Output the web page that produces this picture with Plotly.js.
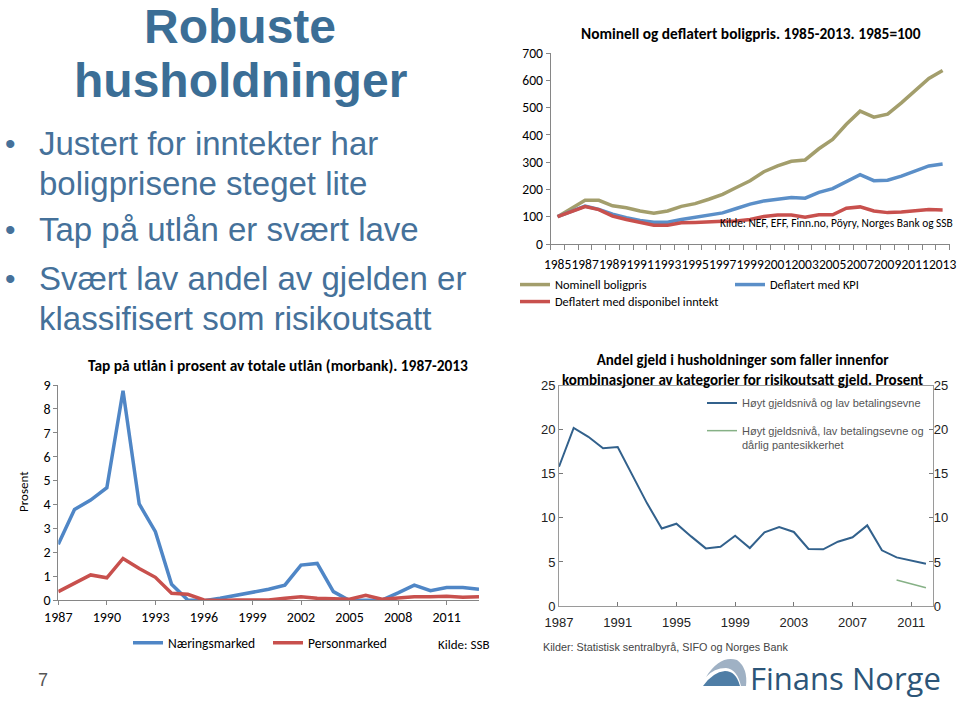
<!DOCTYPE html>
<html>
<head>
<meta charset="utf-8">
<script src="https://cdn.plot.ly/plotly-3.0.1.min.js"></script>
<style>html,body{margin:0;padding:0;background:#fff;}#chart{width:960px;height:703px;}</style>
</head>
<body>
<div id="chart"></div>
<script>
// ---- Chart 1: Nominell og deflatert boligpris (1985=100)
const years1 = [1985,1986,1987,1988,1989,1990,1991,1992,1993,1994,1995,1996,1997,1998,1999,2000,2001,2002,2003,2004,2005,2006,2007,2008,2009,2010,2011,2012,2013];
const nominell = [100,130,160,160,140,133,121,113,121,138,148,164,182,207,232,265,286,303,308,349,383,439,487,465,476,517,564,607,636];
const deflKPI = [100,120,139,127,109,96,86,80,80,90,99,106,114,130,146,158,164,170,168,189,203,229,254,232,234,249,269,286,293];
const deflInntekt = [100,120,137,126,102,90,78,69,69,78,79,82,83,84,90,101,106,106,98,107,107,131,136,121,115,117,122,126,125];
const ticks1 = [1985,1987,1989,1991,1993,1995,1997,1999,2001,2003,2005,2007,2009,2011,2013];

// ---- Chart 2: Tap på utlån i prosent av totale utlån (morbank)
const years2 = [1987,1988,1989,1990,1991,1992,1993,1994,1995,1996,1997,1998,1999,2000,2001,2002,2003,2004,2005,2006,2007,2008,2009,2010,2011,2012,2013];
const naering = [2.33,3.79,4.18,4.7,8.76,4.02,2.86,0.66,0.0,-0.03,0.07,0.2,0.3,0.45,0.62,1.46,1.53,0.35,-0.02,-0.02,0.0,0.3,0.62,0.39,0.52,0.52,0.45];
const person = [0.35,0.70,1.05,0.93,1.74,1.32,0.95,0.28,0.24,0.0,-0.02,0.0,0.0,0.0,0.07,0.14,0.07,0.06,0.03,0.2,0.03,0.08,0.14,0.14,0.16,0.12,0.14];
const ticks2 = [1987,1990,1993,1996,1999,2002,2005,2008,2011];

// ---- Chart 3: Andel gjeld i husholdninger, risikoutsatt gjeld
const years3 = [1987,1988,1989,1990,1991,1992,1993,1994,1995,1996,1997,1998,1999,2000,2001,2002,2003,2004,2005,2006,2007,2008,2009,2010,2011,2012];
const hoytLav = [15.8,20.2,19.2,17.9,18.04,14.9,11.65,8.8,9.34,7.9,6.54,6.73,7.98,6.58,8.36,8.96,8.4,6.47,6.43,7.3,7.8,9.15,6.32,5.52,5.18,4.8];
const years3b = [2010,2011,2012];
const hoytLavDarlig = [2.95,2.53,2.08];
const ticks3 = [1987,1991,1995,1999,2003,2007,2011];

const W = 960, H = 703;
const fx = x => x / W;
const fy = y => 1 - y / H;
const CAL = 'Carlito, Lato, sans-serif';
const ARI = 'Liberation Sans, Arial, sans-serif';
const AX = '#868686';

const traces = [
  {x: years1, y: nominell, type:'scatter', mode:'lines', name:'Nominell boligpris', line:{color:'#a39e6c', width:3.5}, xaxis:'x', yaxis:'y', legend:'legend'},
  {x: years1, y: deflKPI, type:'scatter', mode:'lines', name:'Deflatert med KPI', line:{color:'#5b8fc8', width:3.5}, xaxis:'x', yaxis:'y', legend:'legend2'},
  {x: years1, y: deflInntekt, type:'scatter', mode:'lines', name:'Deflatert med disponibel inntekt', line:{color:'#c8504d', width:3.5}, xaxis:'x', yaxis:'y', legend:'legend3'},
  {x: years2, y: naering, type:'scatter', mode:'lines', name:'Næringsmarked', line:{color:'#4f86c6', width:3.5}, xaxis:'x2', yaxis:'y2', legend:'legend4'},
  {x: years2, y: person, type:'scatter', mode:'lines', name:'Personmarked', line:{color:'#c8504d', width:3.5}, xaxis:'x2', yaxis:'y2', legend:'legend5'},
  {x: years3, y: hoytLav, type:'scatter', mode:'lines', name:'Høyt gjeldsnivå og lav betalingsevne', line:{color:'#32618c', width:2}, xaxis:'x3', yaxis:'y3', legend:'legend6'},
  {x: years3b, y: hoytLavDarlig, type:'scatter', mode:'lines', name:'Høyt gjeldsnivå, lav betalingsevne og<br>dårlig pantesikkerhet', line:{color:'#86b186', width:1.5}, xaxis:'x3', yaxis:'y3', legend:'legend7'}
];

function leg(xp, yp, fam, size, color, extra) {
  return Object.assign({x: fx(xp), y: fy(yp), xanchor:'left', yanchor:'middle', orientation:'v', bgcolor:'rgba(0,0,0,0)', borderwidth:0, font:{family:fam, size:size, color:color}}, extra || {});
}

function ann(text, x, y, size, opts) {
  return Object.assign({text:text, x:fx(x), y:fy(y), xref:'paper', yref:'paper', showarrow:false, xanchor:'center', yanchor:'middle', font:{family:CAL, size:size, color:'#000'}}, opts || {});
}

const TITLE = '#3b6e96', BUL = '#45719a';
const annotations = [
  ann('<b>Robuste</b>', 240, 26, 48, {font:{family:ARI, size:48, color:TITLE}}),
  ann('<b>husholdninger</b>', 240, 81, 48, {font:{family:ARI, size:48, color:TITLE}}),
  ann('•', 10, 143, 30, {font:{family:ARI, size:30, color:BUL}}),
  ann('•', 10, 230, 30, {font:{family:ARI, size:30, color:BUL}}),
  ann('•', 10, 278, 30, {font:{family:ARI, size:30, color:BUL}}),
  ann('Justert for inntekter har', 37, 143, 33, {xanchor:'left', font:{family:ARI, size:33, color:BUL}}),
  ann('boligprisene steget lite', 37, 183, 33, {xanchor:'left', font:{family:ARI, size:33, color:BUL}}),
  ann('Tap på utlån er svært lave', 37, 230, 33, {xanchor:'left', font:{family:ARI, size:33, color:BUL}}),
  ann('Svært lav andel av gjelden er', 37, 278, 33, {xanchor:'left', font:{family:ARI, size:33, color:BUL}}),
  ann('klassifisert som risikoutsatt', 37, 319, 33, {xanchor:'left', font:{family:ARI, size:33, color:BUL}}),

  ann('<b>Nominell og deflatert boligpris. 1985-2013. 1985=100</b>', 751, 33, 15.4),
  ann('Kilde: NEF, EFF, Finn.no, Pöyry, Norges Bank og SSB', 955, 223, 11.4, {xanchor:'right'}),

  ann('<b>Tap på utlån i prosent av totale utlån (morbank). 1987-2013</b>', 278, 365, 15.4),
  ann('Prosent', 23, 492, 13, {textangle:-90}),
  ann('Kilde: SSB', 491, 644, 13, {xanchor:'right'}),

  ann('<b>Andel gjeld i husholdninger som faller innenfor<br>kombinasjoner av kategorier for risikoutsatt gjeld. Prosent</b>', 742, 369.5, 15, {}),
  ann('Kilder: Statistisk sentralbyrå, SIFO og Norges Bank', 541, 647, 10.8, {xanchor:'left', font:{family:ARI, size:10.8, color:'#444'}}),

  ann('7', 43, 680, 18, {font:{family:ARI, size:18, color:'#555'}}),
  ann('Finans Norge', 748, 678, 31, {xanchor:'left', font:{family:'Open Sans, sans-serif', size:31, color:'#2c5578'}})
];

function P(pts) {
  return pts.map(s => fx(s[0]).toFixed(5) + ',' + fy(s[1]).toFixed(5)).join(' ');
}
const shapes = [
  {type:'path', xref:'paper', yref:'paper', line:{width:0}, fillcolor:'#9fb1c4',
   path: 'M' + P([[706,677]]) + ' Q' + P([[720,655],[737,660]]) + ' Q' + P([[748,668],[746,686]]) + ' L' + P([[741,686]]) + ' Q' + P([[737,669],[726,668]]) + ' Q' + P([[714,668],[706,677]]) + ' Z'},
  {type:'path', xref:'paper', yref:'paper', line:{width:0}, fillcolor:'#4f7ea6',
   path: 'M' + P([[703,686]]) + ' L' + P([[740,686]]) + ' Q' + P([[736,671],[725,671]]) + ' Q' + P([[713,672],[703,686]]) + ' Z'}
];

const layout = {
  width: W, height: H,
  margin:{l:0, r:0, t:0, b:0},
  paper_bgcolor:'#fff', plot_bgcolor:'rgba(0,0,0,0)',
  showlegend:true,
  xaxis:{domain:[fx(550.7), fx(949.5)], range:[1984.5, 2013.5], anchor:'y', tickmode:'array', tickvals:ticks1,
         tickangle:0, ticks:'', ticklabelstandoff:8, showline:true, linecolor:AX, linewidth:1, showgrid:false, zeroline:false,
         tickfont:{family:CAL, size:13.5, color:'#000'},
         minor:{tickmode:'linear', tick0:1984.5, dtick:1, ticks:'outside', ticklen:5, tickcolor:AX, showgrid:false}},
  yaxis:{domain:[fy(244), fy(53)], range:[0,700], dtick:100, anchor:'x', ticks:'outside', ticklen:4, tickcolor:AX,
         showline:true, linecolor:AX, showgrid:false, zeroline:false, tickfont:{family:CAL, size:13.6, color:'#000'}},
  xaxis2:{domain:[fx(58.3), fx(479)], range:[1987, 2013], anchor:'y2', tickmode:'array', tickvals:ticks2, tickangle:0,
          ticks:'outside', ticklen:4, tickcolor:AX, showline:true, linecolor:AX, showgrid:false, zeroline:false,
          tickfont:{family:CAL, size:14, color:'#000'}},
  yaxis2:{domain:[fy(600), fy(385)], range:[0,9], dtick:1, anchor:'x2', ticks:'outside', ticklen:4, tickcolor:AX,
          showline:true, linecolor:AX, showgrid:false, zeroline:false, tickfont:{family:CAL, size:14, color:'#000'}},
  xaxis3:{domain:[fx(559), fx(932.7)], range:[1987, 2012.46], anchor:'y3', tickmode:'array', tickvals:ticks3, tickangle:0,
          ticks:'inside', ticklen:4, tickcolor:'#777', ticklabelstandoff:4, showline:true, mirror:true, linecolor:'#9a9a9a', showgrid:false, zeroline:false,
          tickfont:{family:ARI, size:13, color:'#222'}},
  yaxis3:{domain:[fy(606), fy(385.7)], range:[0,25], dtick:5, anchor:'x3', ticks:'inside', ticklen:4, tickcolor:'#777',
          showline:true, mirror:true, linecolor:'#9a9a9a', showgrid:false, zeroline:false, tickfont:{family:ARI, size:13, color:'#222'}},
  yaxis4:{overlaying:'y3', side:'right', range:[0,25], dtick:5, anchor:'x3', ticks:'inside', ticklen:4, tickcolor:'#777',
          showline:false, showgrid:false, zeroline:false, tickfont:{family:ARI, size:13, color:'#222'}},
  legend: leg(515, 285, CAL, 12.4, '#000'),
  legend2: leg(730, 285, CAL, 12.4, '#000'),
  legend3: leg(515, 302, CAL, 12.4, '#000'),
  legend4: leg(128, 643, CAL, 13.5, '#000'),
  legend5: leg(268, 643, CAL, 13.5, '#000'),
  legend6: leg(702, 403, ARI, 11, '#555'),
  legend7: leg(702, 417, ARI, 11, '#555', {yanchor:'top', valign:'top'}),
  annotations: annotations,
  shapes: shapes
};

// invisible helper trace so the right-hand axis of chart 3 is drawn
traces.push({x:[years3[0]], y:[hoytLav[0]], type:'scatter', mode:'lines', xaxis:'x3', yaxis:'y4', showlegend:false, hoverinfo:'skip', line:{width:0}});

Plotly.newPlot('chart', traces, layout, {displayModeBar:false, staticPlot:true});
</script>
</body>
</html>
